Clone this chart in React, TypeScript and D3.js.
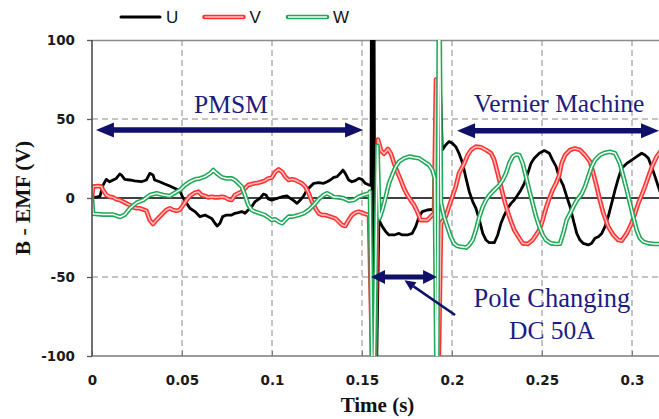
import React, { useEffect, useRef } from 'react';
import * as d3 from 'd3';

const width = 659;
const height = 419;
const margin = { t: 40, r: 0, b: 63, l: 92 };

// phase U (black) [time s, volts]
const uPoints: [number, number][] = [
  [0, 0], [0.0044, 1], [0.0061, 8], [0.0079, 11.8], [0.0098, 10.3], [0.0117, 11.4], [0.0135, 12.4],
  [0.0154, 15.2], [0.0163, 14.6], [0.0182, 11.8], [0.0209, 11.4], [0.0237, 10.8], [0.0274, 10.3],
  [0.0302, 11.4], [0.0321, 15.6], [0.0339, 14.6], [0.0348, 11.4], [0.0376, 10.3], [0.0404, 8.9],
  [0.0432, 7.6], [0.0459, 6.1], [0.0487, 4.6], [0.0507, -0.2], [0.0526, -3.4], [0.0544, -6.5],
  [0.0572, -8.6], [0.06, -11.8], [0.0628, -10.8], [0.0646, -11.8], [0.0665, -12.9], [0.0683, -16],
  [0.0696, -17.7], [0.0711, -16], [0.0726, -11.8], [0.0748, -10.8], [0.0776, -10.8], [0.0794, -9.7],
  [0.0813, -9.3], [0.0832, -8.6], [0.085, -9.7], [0.0868, -7.6], [0.0887, -5.5], [0.0906, -2.3],
  [0.0933, -0.2], [0.0952, 2.5], [0.0967, 1.9], [0.0979, -0.6], [0.0998, -1.3], [0.1028, -0.2],
  [0.1056, 0.8], [0.1083, 1.3], [0.1102, -0.2], [0.1121, -1.7], [0.1139, -3.4], [0.1157, -1.3],
  [0.1176, 1.3], [0.1194, 5.1], [0.1213, 7.2], [0.1232, 9.3], [0.1259, 9.7], [0.1287, 9.3],
  [0.1306, 10.3], [0.1324, 11.4], [0.1343, 13.1], [0.1361, 13.5], [0.1379, 15.6], [0.1394, 17.7],
  [0.1407, 15.6], [0.1426, 11.4], [0.1444, 10.3], [0.1463, 11], [0.1482, 12.4], [0.15, 11.8],
  [0.1518, 9.3], [0.1539, 8.2], [0.155, 8], [0.1553, 160], [0.156, -160], [0.1566, 160],
  [0.1574, -160], [0.1594, -13.9],
  [0.1613, -18.1], [0.1632, -21.3], [0.165, -23.4], [0.1678, -23.4], [0.1706, -22.4], [0.1724, -23.4],
  [0.1752, -23.4], [0.1779, -22.4], [0.1798, -18.1], [0.1817, -11.8], [0.1835, -8.6], [0.1863, -7.6],
  [0.1891, -7.2], [0.1909, -7.6], [0.1929, 97], [0.1946, 30.4], [0.1965, 33.5], [0.1983, 35.7],
  [0.2002, 34.6], [0.2021, 32.5], [0.2039, 28.3], [0.2059, 22], [0.2078, 12.4], [0.2096, 4],
  [0.2115, -2.3], [0.2133, -6.5], [0.2152, -13.9], [0.2171, -22.4], [0.2189, -26.6], [0.2207, -28.3],
  [0.2235, -28.3], [0.2254, -23.4], [0.2272, -16], [0.2291, -10.8], [0.2309, -6.5], [0.2328, -3.4],
  [0.2346, -1.3], [0.2365, 1.9], [0.2383, 5.1], [0.2402, 9.3], [0.2421, 15.6], [0.2439, 22],
  [0.2457, 25.1], [0.2485, 28.3], [0.2513, 30], [0.2541, 28.3], [0.2559, 24], [0.2578, 20],
  [0.2596, 13], [0.2618, 8], [0.2637, 1], [0.2656, -5.5], [0.2674, -14], [0.2693, -22.4],
  [0.2711, -26.6], [0.2729, -28.7], [0.2757, -29.7], [0.2776, -28.7], [0.2794, -25.5], [0.2813, -24.5],
  [0.2832, -22.4], [0.285, -18.1], [0.2868, -11.8], [0.2887, -3.4], [0.2906, 5.1], [0.2924, 12.4],
  [0.2943, 18.8], [0.2971, 21.9], [0.2998, 24], [0.3026, 26.2], [0.3054, 28.3], [0.3072, 27.2],
  [0.3091, 25.1], [0.3109, 19.8], [0.3128, 13.5], [0.3146, 7.2], [0.3156, 4]
];

// phase V (red)
const vPoints: [number, number][] = [
  [0, 0], [0.0006, 7.2], [0.0033, 7.6], [0.0052, 7.2], [0.0061, 5.1], [0.0079, 1.9], [0.0098, 0.8],
  [0.0117, 0.4], [0.0135, -0.8], [0.0154, -1.3], [0.0172, -2.3], [0.0191, -3.4], [0.0209, -4.4],
  [0.0228, -5.9], [0.0246, -6.5], [0.0265, -6.5], [0.0283, -7.2], [0.0302, -8], [0.0321, -14],
  [0.0339, -16.5], [0.0357, -14], [0.0376, -11.8], [0.0394, -9.7], [0.0413, -7.6], [0.0432, -6.5],
  [0.045, -7.6], [0.0468, -8], [0.0487, -7.6], [0.0507, -4.4], [0.0526, -1.3], [0.0544, 1.3],
  [0.0572, 3.4], [0.0591, 4], [0.0609, 1.9], [0.0628, 1.3], [0.0646, 0.4], [0.0665, 0.8],
  [0.0683, 0.4], [0.0702, 0.4], [0.0721, 0.8], [0.0739, 0.4], [0.0757, -0.8], [0.0776, -1.3],
  [0.0794, 1.9], [0.0813, 3], [0.0832, 4], [0.085, 6.1], [0.0868, 8.2], [0.0887, 8.9], [0.0906, 9.3],
  [0.0924, 9.7], [0.0943, 10.3], [0.0961, 11], [0.0979, 12.4], [0.1, 13], [0.1018, 16.6],
  [0.1037, 18.1], [0.1056, 16.6], [0.1074, 13.5], [0.1093, 11.4], [0.1111, 11.8], [0.1129, 11.4],
  [0.1148, 10.3], [0.1167, 9.3], [0.1185, 7.2], [0.1204, 3], [0.1222, -2.3], [0.1241, -6.5],
  [0.1259, -9.7], [0.1278, -10.8], [0.1296, -10.8], [0.1324, -11.8], [0.1352, -12.9], [0.1371, -15],
  [0.1389, -17.1], [0.1407, -17.7], [0.1426, -13.9], [0.1444, -10.8], [0.1463, -9.3], [0.1482, -8.6],
  [0.15, -9.3], [0.1518, -10.1], [0.1539, -10.8], [0.1567, -160], [0.1589, 37], [0.1606, 30],
  [0.1622, 28], [0.1644, 31], [0.1661, 28], [0.1678, 22], [0.1696, 16.6], [0.1715, 11.4],
  [0.1733, 6.1], [0.1752, 1.9], [0.1771, -1.5], [0.1789, -4.4], [0.1807, -8.6], [0.1826, -14],
  [0.1844, -14], [0.1863, -14], [0.1882, -11.8], [0.19, -9.7], [0.1911, 75], [0.1919, -160],
  [0.1939, -16], [0.1965, -11.8], [0.1983, -5.5], [0.2002, 0.8], [0.2021, 7.2], [0.2039, 15.6],
  [0.2068, 21.9], [0.2087, 27.2], [0.2106, 30.4], [0.2133, 32.5], [0.2161, 32.1], [0.2189, 30.4],
  [0.2217, 28.3], [0.2235, 24], [0.2254, 15.6], [0.2272, 7.2], [0.2291, -1.5], [0.2309, -8.6],
  [0.2328, -15], [0.2346, -20.3], [0.2374, -25.5], [0.2393, -28.7], [0.2421, -29.1], [0.2448, -26.6],
  [0.2467, -23.4], [0.2485, -20.3], [0.2504, -13.9], [0.2522, -6.5], [0.2541, -0.2], [0.2559, 5.1],
  [0.2578, 9.3], [0.2596, 14.5], [0.2609, 21.9], [0.2628, 27.2], [0.2656, 30.4], [0.2683, 31.4],
  [0.2711, 30.4], [0.2739, 27.2], [0.2767, 23], [0.2785, 15.6], [0.2804, 7.2], [0.2822, -1.5],
  [0.2841, -9.7], [0.2868, -18.1], [0.2896, -23.4], [0.2924, -26.6], [0.2943, -27], [0.2971, -22.4],
  [0.2998, -16], [0.3017, -9.7], [0.3035, -3.4], [0.3054, 1.9], [0.3072, 7.2], [0.3091, 13.5],
  [0.3111, 19.8], [0.3137, 26.2], [0.3156, 29]
];

// phase W (green)
const wPoints: [number, number][] = [
  [0, 0], [0.0006, -10], [0.0063, -10.5], [0.0118, -10.5], [0.0156, -12], [0.0183, -10.5],
  [0.0211, -6.5], [0.0248, -3], [0.0285, -1.3], [0.0322, 1.9], [0.0359, 3], [0.0396, 1.9],
  [0.0433, 1.3], [0.0471, 4], [0.0489, 5.1], [0.0517, 8.2], [0.0544, 10.3], [0.0572, 11.8],
  [0.06, 12.4], [0.0628, 13.5], [0.0656, 15.6], [0.0674, 17.7], [0.0693, 15.6], [0.0721, 13.1],
  [0.0748, 12.4], [0.0776, 12.4], [0.0794, 11.4], [0.0813, 9.3], [0.0832, 7.2], [0.085, 1.7],
  [0.0868, -4.4], [0.0887, -7.6], [0.0906, -8.6], [0.0933, -9.7], [0.0961, -10.8], [0.0979, -12.2],
  [0.0998, -13.9], [0.1018, -13.5], [0.1037, -15], [0.1056, -16], [0.1074, -13.9], [0.1093, -11.8],
  [0.1111, -11.8], [0.1129, -11.4], [0.1148, -10.8], [0.1176, -9.7], [0.1204, -7.6], [0.1232, -4.4],
  [0.1259, -0.8], [0.1287, 1.9], [0.1306, 3], [0.1324, 1.9], [0.1343, 0.6], [0.1371, 0.4],
  [0.1398, -0.2], [0.1426, -1.7], [0.1454, -1.3], [0.1482, 0.8], [0.1509, 1.9], [0.1539, 3],
  [0.1544, 4], [0.1561, -160], [0.1586, 33], [0.1597, -13], [0.1613, -7.6], [0.1632, 0.8],
  [0.165, 9.3], [0.1668, 14.6], [0.1687, 19.8], [0.1706, 23], [0.1733, 25.1], [0.1761, 26.2],
  [0.1789, 25.7], [0.1817, 25.1], [0.1844, 23], [0.1872, 20.9], [0.1891, 17.7], [0.1904, 12.4],
  [0.1917, -160], [0.1928, 160], [0.1939, -3], [0.1956, -11.8], [0.1974, -18.1], [0.1993, -24.5],
  [0.2011, -28.7], [0.2029, -30.4], [0.205, -30.8], [0.2078, -31.4], [0.2096, -29.7], [0.2115, -26.6],
  [0.2133, -20.3], [0.2152, -11.8], [0.2171, -5.5], [0.2189, -1.3], [0.2207, 1.7], [0.2226, 4],
  [0.2244, 6.1], [0.2263, 8.2], [0.2282, 11.4], [0.23, 15.6], [0.2318, 21.9], [0.2337, 26.2],
  [0.2356, 27.6], [0.2374, 27.2], [0.2393, 21.9], [0.2411, 13.5], [0.2429, 5.1], [0.2448, -3.4],
  [0.2467, -11.8], [0.2485, -18.1], [0.2504, -23.4], [0.2522, -26.6], [0.255, -28.7], [0.2578, -29.1],
  [0.26, -29], [0.2618, -22.4], [0.2637, -13.9], [0.2656, -9.7], [0.2674, -5.5], [0.2693, -1.5],
  [0.2721, 2.7], [0.2739, 7.2], [0.2757, 13.5], [0.2776, 19.8], [0.2794, 24], [0.2822, 27.2],
  [0.285, 28.7], [0.2878, 29.3], [0.2906, 28.3], [0.2933, 21.9], [0.2952, 13.5], [0.2971, 5.1],
  [0.2989, -3.4], [0.3007, -11.8], [0.3026, -20.3], [0.3044, -25.5], [0.3063, -27.6], [0.3091, -28.7],
  [0.3128, -29.1], [0.3156, -29.1]
];

const seriesNames = ['U', 'V', 'W'];
const xTicks = [0, 0.05, 0.1, 0.15, 0.2, 0.25, 0.3];
const yTicks = [-100, -50, 0, 50, 100];

// annotation arrows in data units
const spanArrows = [
  { from: 0.0022, to: 0.1506, v: 43, head: 18, half: 7.5, w: 5.5 },
  { from: 0.2028, to: 0.315, v: 42.5, head: 18, half: 7.5, w: 5.5 },
  { from: 0.155, to: 0.1917, v: -50, head: 14, half: 7, w: 5 }
];
const notes = [
  { text: 'PMSM', t: 0.0772, v: 53.5, size: 25.5 },
  { text: 'Vernier Machine', t: 0.2595, v: 54.5, size: 25.5 },
  { text: 'Pole Changing', t: 0.2555, v: -69, size: 26.5 },
  { text: 'DC 50A', t: 0.2555, v: -89.5, size: 25.5 }
];
const pointer = { from: [0.2017, -74], to: [0.1736, -52] };

const navy = '#10106a';

export default function App(): JSX.Element {
  const svgRef = useRef<SVGSVGElement>(null);

  useEffect(() => {
    const svg = d3.select(svgRef.current);
    svg.selectAll('*').remove();

    const x = d3.scaleLinear().domain([0, 0.315]).range([margin.l, width - margin.r]);
    const y = d3.scaleLinear().domain([-100, 100]).range([height - margin.b, margin.t]);
    const [x0, x1] = x.range();
    const [yb, yt] = y.range();

    svg.append('defs').append('clipPath').attr('id', 'plot-clip')
      .append('rect').attr('x', x0).attr('y', yt).attr('width', x1 - x0).attr('height', yb - yt);

    // grid lines
    const grid = svg.append('g');
    grid.selectAll('line.v').data(xTicks.filter((d) => d > 0)).join('line')
      .attr('x1', (d) => x(d)).attr('x2', (d) => x(d)).attr('y1', yt).attr('y2', yb)
      .attr('stroke', '#8a8a8a').attr('stroke-width', 1).attr('stroke-dasharray', '6,4');
    grid.selectAll('line.h').data([-50, 50]).join('line')
      .attr('x1', x0).attr('x2', x1).attr('y1', (d) => y(d)).attr('y2', (d) => y(d))
      .attr('stroke', '#8a8a8a').attr('stroke-width', 1).attr('stroke-dasharray', '6,4');

    // frame
    svg.append('line').attr('x1', x0).attr('x2', x1).attr('y1', yt + 0.5).attr('y2', yt + 0.5)
      .attr('stroke', '#8c8c8c').attr('stroke-width', 1.3);
    svg.append('line').attr('x1', x0).attr('x2', x1).attr('y1', yb).attr('y2', yb)
      .attr('stroke', '#7a7a7a').attr('stroke-width', 1.5);

    // left axis with labels
    const yAxis = svg.append('g').attr('transform', `translate(${x0},0)`)
      .call(d3.axisLeft(y).tickValues(yTicks).tickSize(5).tickPadding(12).tickFormat((d) => String(d)));
    yAxis.select('.domain').remove();
    yAxis.selectAll('line').attr('stroke', '#595959').attr('stroke-width', 1.3);
    yAxis.selectAll('text').attr('font-family', 'DejaVu Sans, sans-serif').attr('font-weight', 700)
      .attr('font-size', 13.5).attr('fill', '#1a1a1a');

    // bottom labels
    const xAxis = svg.append('g').attr('transform', `translate(0,${yb})`)
      .call(d3.axisBottom(x).tickValues(xTicks).tickSizeInner(-5).tickSizeOuter(0).tickPadding(19)
        .tickFormat((d) => String(d)));
    xAxis.select('.domain').remove();
    xAxis.selectAll('line').attr('stroke', '#7a7a7a').attr('stroke-width', 1);
    xAxis.selectAll('text').attr('font-family', 'DejaVu Sans, sans-serif').attr('font-weight', 700)
      .attr('font-size', 13.5).attr('fill', '#1a1a1a');

    // zero line
    svg.append('line').attr('x1', x0).attr('x2', x1).attr('y1', y(0)).attr('y2', y(0))
      .attr('stroke', '#000').attr('stroke-width', 1.6);

    // series
    const line = d3.line<[number, number]>().x((d) => x(d[0])).y((d) => y(d[1]));
    const plot = svg.append('g').attr('clip-path', 'url(#plot-clip)');
    const strokes = (g: d3.Selection<SVGGElement, unknown, null, undefined>, pts: [number, number][], color: string, w: number) =>
      g.append('path').attr('d', line(pts)).attr('fill', 'none').attr('stroke', color)
        .attr('stroke-width', w).attr('stroke-linejoin', 'round').attr('stroke-linecap', 'round');

    strokes(plot, uPoints, '#000', 2.8);
    strokes(plot, vPoints, '#ff3232', 4.6);
    strokes(plot, vPoints, '#ffc0c0', 1.5);
    strokes(plot, wPoints, '#1fa856', 4.6);
    strokes(plot, wPoints, '#ffffff', 1.5);

    // left axis line on top
    svg.append('line').attr('x1', x0).attr('x2', x0).attr('y1', yt).attr('y2', yb)
      .attr('stroke', '#4d4d4d').attr('stroke-width', 1.6);

    // axis titles
    svg.append('text').attr('x', (x0 + x1) / 2 + 2).attr('y', 412).attr('text-anchor', 'middle')
      .attr('font-family', 'Liberation Serif, Times New Roman, serif').attr('font-weight', 700)
      .attr('font-size', 21).attr('fill', '#111').text('Time (s)');
    svg.append('text').attr('transform', `translate(30,${y(0)}) rotate(-90)`).attr('text-anchor', 'middle')
      .attr('font-family', 'Liberation Serif, Times New Roman, serif').attr('font-weight', 700)
      .attr('font-size', 21.5).attr('fill', '#111').text('B - EMF (V)');

    // legend
    const legend = svg.append('g');
    seriesNames.forEach((name, i) => {
      const lx = 121 + i * 83.5;
      const seg: [number, number][] = [[lx, 17], [lx + 39, 17]];
      const path = d3.line()(seg);
      if (i === 0) {
        legend.append('path').attr('d', path).attr('stroke', '#000').attr('stroke-width', 3)
          .attr('stroke-linecap', 'round');
      } else {
        const c = i === 1 ? ['#ff3232', '#ffc0c0'] : ['#1fa856', '#ffffff'];
        legend.append('path').attr('d', path).attr('stroke', c[0]).attr('stroke-width', 4.6)
          .attr('stroke-linecap', 'round');
        legend.append('path').attr('d', path).attr('stroke', c[1]).attr('stroke-width', 1.5);
      }
      legend.append('text').attr('x', lx + 45).attr('y', 23)
        .attr('font-family', 'Liberation Sans, Arial, sans-serif').attr('font-size', 17)
        .attr('fill', '#111').text(name);
    });

    // annotations
    const ann = svg.append('g');
    spanArrows.forEach((a) => {
      const ax1 = x(a.from);
      const ax2 = x(a.to);
      const ay = y(a.v);
      ann.append('line').attr('x1', ax1 + a.head - 2).attr('x2', ax2 - a.head + 2).attr('y1', ay).attr('y2', ay)
        .attr('stroke', navy).attr('stroke-width', a.w);
      ann.append('polygon').attr('fill', navy)
        .attr('points', `${ax1},${ay} ${ax1 + a.head},${ay - a.half} ${ax1 + a.head},${ay + a.half}`);
      ann.append('polygon').attr('fill', navy)
        .attr('points', `${ax2},${ay} ${ax2 - a.head},${ay - a.half} ${ax2 - a.head},${ay + a.half}`);
    });

    const px1 = x(pointer.from[0]);
    const py1 = y(pointer.from[1]);
    const px2 = x(pointer.to[0]);
    const py2 = y(pointer.to[1]);
    const ang = Math.atan2(py2 - py1, px2 - px1);
    const hl = 11;
    const hw = 5;
    const bx = px2 - hl * Math.cos(ang);
    const by = py2 - hl * Math.sin(ang);
    ann.append('line').attr('x1', px1).attr('y1', py1).attr('x2', bx).attr('y2', by)
      .attr('stroke', navy).attr('stroke-width', 2.5);
    ann.append('polygon').attr('fill', navy).attr('points', [
      [px2, py2],
      [bx + hw * Math.sin(ang), by - hw * Math.cos(ang)],
      [bx - hw * Math.sin(ang), by + hw * Math.cos(ang)]
    ].map((p) => p.join(',')).join(' '));

    ann.selectAll('text.note').data(notes).join('text')
      .attr('x', (d) => x(d.t)).attr('y', (d) => y(d.v)).attr('text-anchor', 'middle')
      .attr('font-family', 'Liberation Serif, Times New Roman, serif').attr('font-size', (d) => d.size)
      .attr('fill', '#1c1c80').text((d) => d.text);
  }, []);

  return (
    <svg
      ref={svgRef}
      width={width}
      height={height}
      style={{ position: 'absolute', left: 0, top: 0, background: '#fff' }}
    />
  );
}
